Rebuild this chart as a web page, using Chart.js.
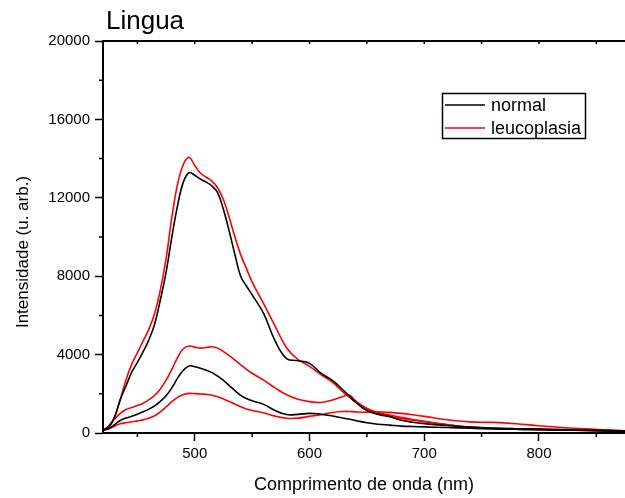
<!DOCTYPE html>
<html>
<head>
<title>Lingua</title>
<script src="https://cdn.jsdelivr.net/npm/chart.js"></script>
<style>
  body { margin: 0; background: #fff; }
</style>
</head>
<body>
<canvas id="myChart" width="625" height="498"></canvas>
<script>
// comprimento de onda (nm)
const wavelength = [420, 425, 430, 435, 440, 445, 450, 455, 460, 465, 470, 475, 480, 485, 490, 495, 500, 505, 510, 515, 520, 525, 530, 535, 540, 545, 550,
  560, 570, 580, 590, 600, 610, 620, 630, 635, 640, 650, 660, 670, 680, 690, 700,
  720, 740, 760, 780, 800, 820, 840, 860, 875];

// normal (preto)
const normal1 = [150, 300, 800, 1700, 2400, 3100, 3600, 4150, 4750, 5550, 6800, 8200, 10000, 11600, 12800, 13280, 13150, 12950, 12800, 12600, 12250, 11400, 10300, 9100, 8000, 7500, 7050,
  6100, 4700, 3800, 3690, 3550, 3050, 2680, 2150, 1870, 1580, 1150, 950, 830, 650, 550, 480,
  380, 300, 250, 220, 200, 170, 150, 120, 100];
const normal2 = [150, 220, 420, 640, 760, 850, 960, 1080, 1220, 1380, 1620, 1900, 2300, 2800, 3200, 3420, 3380, 3300, 3200, 3080, 2900, 2680, 2420, 2160, 1920, 1760, 1640,
  1460, 1150, 940, 950, 1000, 960, 870, 750, 700, 640, 520, 450, 400, 350, 330, 310,
  280, 240, 210, 190, 170, 150, 130, 110, 100];

// leucoplasia (vermelho)
const leuco1 = [150, 350, 800, 1700, 2700, 3500, 4100, 4700, 5300, 6100, 7300, 8900, 11000, 12700, 13700, 14060, 13650, 13250, 13050, 12850, 12500, 11900, 11000, 10000, 9100, 8400, 7700,
  6600, 5450, 4350, 3750, 3400, 2980, 2580, 2050, 1820, 1600, 1250, 1000, 850, 740, 650, 570,
  430, 300, 240, 200, 180, 160, 140, 115, 100];
const leuco2 = [150, 350, 700, 1000, 1200, 1300, 1400, 1520, 1700, 1920, 2250, 2700, 3250, 3850, 4300, 4440, 4380, 4330, 4360, 4400, 4330, 4150, 3950, 3720, 3480, 3250, 3050,
  2700, 2300, 1950, 1720, 1600, 1560, 1680, 1880, 1930, 1650, 1250, 1050, 920, 800, 690, 600,
  420, 290, 230, 190, 170, 150, 130, 110, 100];
const leuco3 = [150, 220, 350, 470, 530, 570, 620, 670, 750, 880, 1080, 1330, 1600, 1820, 1960, 2020, 2010, 1990, 1970, 1930, 1850, 1740, 1610, 1470, 1340, 1230, 1150,
  1030, 860, 750, 760, 850, 930, 1050, 1100, 1100, 1080, 1060, 1080, 1050, 1000, 930, 850,
  680, 570, 540, 470, 370, 280, 210, 160, 117];

const seriesNames = ['normal', 'leucoplasia'];
const xMajor = [500, 600, 700, 800];
const xMinor = [450, 550, 650, 750, 850];
const yMajor = [0, 4000, 8000, 12000, 16000, 20000];
const yMinor = [2000, 6000, 10000, 14000, 18000];

const FONT = "'Liberation Sans', Arial, sans-serif";
Chart.defaults.font.family = FONT;
Chart.defaults.color = '#000';

function pts(ys) {
    return wavelength.map((w, i) => ({ x: w, y: ys[i] }));
}

function line(label, ys, color) {
    return {
        label: label,
        data: pts(ys),
        borderColor: color,
        borderWidth: 1.6,
        pointRadius: 0,
        fill: false,
        tension: 0.4
    };
}

// eixo superior, ticks menores, titulos e legenda
const extras = {
    id: 'extras',
    afterDraw(chart) {
        const { ctx, chartArea: a, scales: { x, y } } = chart;
        ctx.save();
        ctx.strokeStyle = '#000';
        ctx.lineWidth = 2;
        ctx.beginPath();
        ctx.moveTo(a.left - 1, a.top);
        ctx.lineTo(a.right, a.top);
        ctx.stroke();

        ctx.lineWidth = 1.5;
        ctx.beginPath();
        xMajor.concat(xMinor).forEach(v => {
            const px = x.getPixelForValue(v);
            ctx.moveTo(px, a.top);
            ctx.lineTo(px, a.top + 3);
        });
        xMinor.forEach(v => {
            const px = x.getPixelForValue(v);
            ctx.moveTo(px, a.bottom);
            ctx.lineTo(px, a.bottom + 4);
        });
        yMinor.forEach(v => {
            const py = y.getPixelForValue(v);
            ctx.moveTo(a.left, py);
            ctx.lineTo(a.left - 4, py);
        });
        ctx.stroke();

        ctx.fillStyle = '#000';
        ctx.font = '26px ' + FONT;
        ctx.textBaseline = 'alphabetic';
        ctx.textAlign = 'left';
        ctx.fillText('Lingua', 106, 29);

        // titulo do eixo y
        ctx.save();
        ctx.translate(23, 252);
        ctx.rotate(-Math.PI / 2);
        ctx.font = '17px ' + FONT;
        ctx.textAlign = 'center';
        ctx.textBaseline = 'middle';
        ctx.fillText('Intensidade (u. arb.)', 0, 0);
        ctx.restore();

        // legenda
        ctx.lineWidth = 1.5;
        ctx.strokeRect(442.5, 93.5, 143, 45);
        ctx.font = '18px ' + FONT;
        ctx.textBaseline = 'middle';
        ctx.textAlign = 'left';
        const colors = ['#000', '#ff0000'];
        seriesNames.forEach((name, i) => {
            const ly = 105 + i * 23;
            ctx.strokeStyle = colors[i];
            ctx.lineWidth = 1.6;
            ctx.beginPath();
            ctx.moveTo(445, ly);
            ctx.lineTo(485, ly);
            ctx.stroke();
            ctx.fillText(name, 491, ly + 1);
        });
        ctx.restore();
    }
};

const ctx = document.getElementById('myChart').getContext('2d');
const chart = new Chart(ctx, {
    type: 'line',
    data: {
        datasets: [
            line(seriesNames[0], normal1, '#000'),
            line(seriesNames[0], normal2, '#000'),
            line(seriesNames[1], leuco1, '#ff0000'),
            line(seriesNames[1], leuco2, '#ff0000'),
            line(seriesNames[1], leuco3, '#ff0000')
        ]
    },
    options: {
        responsive: false,
        animation: false,
        devicePixelRatio: 1,
        layout: { padding: { top: 41, left: 0, right: 0, bottom: 0 } },
        plugins: {
            legend: { display: false },
            tooltip: { enabled: false }
        },
        scales: {
            x: {
                type: 'linear',
                min: 420,
                max: 875,
                afterBuildTicks: s => { s.ticks = xMajor.map(v => ({ value: v })); },
                afterFit: s => { s.height = 65; },
                border: { display: true, color: '#000', width: 2 },
                grid: { drawOnChartArea: false, tickLength: 8, tickWidth: 1.5, tickColor: '#000' },
                ticks: { font: { size: 15 }, padding: 4, maxRotation: 0, callback: v => String(v) },
                title: {
                    display: true,
                    text: 'Comprimento de onda (nm)',
                    font: { size: 18 },
                    padding: { top: 0, bottom: 2 }
                }
            },
            y: {
                min: 0,
                max: 20000,
                afterBuildTicks: s => { s.ticks = yMajor.map(v => ({ value: v })); },
                afterFit: s => { s.width = 103; },
                border: { display: true, color: '#000', width: 2 },
                grid: { drawOnChartArea: false, tickLength: 8, tickWidth: 1.5, tickColor: '#000' },
                ticks: { font: { size: 15 }, padding: 5, callback: v => String(v) }
            }
        }
    },
    plugins: [extras]
});
</script>
</body>
</html>
